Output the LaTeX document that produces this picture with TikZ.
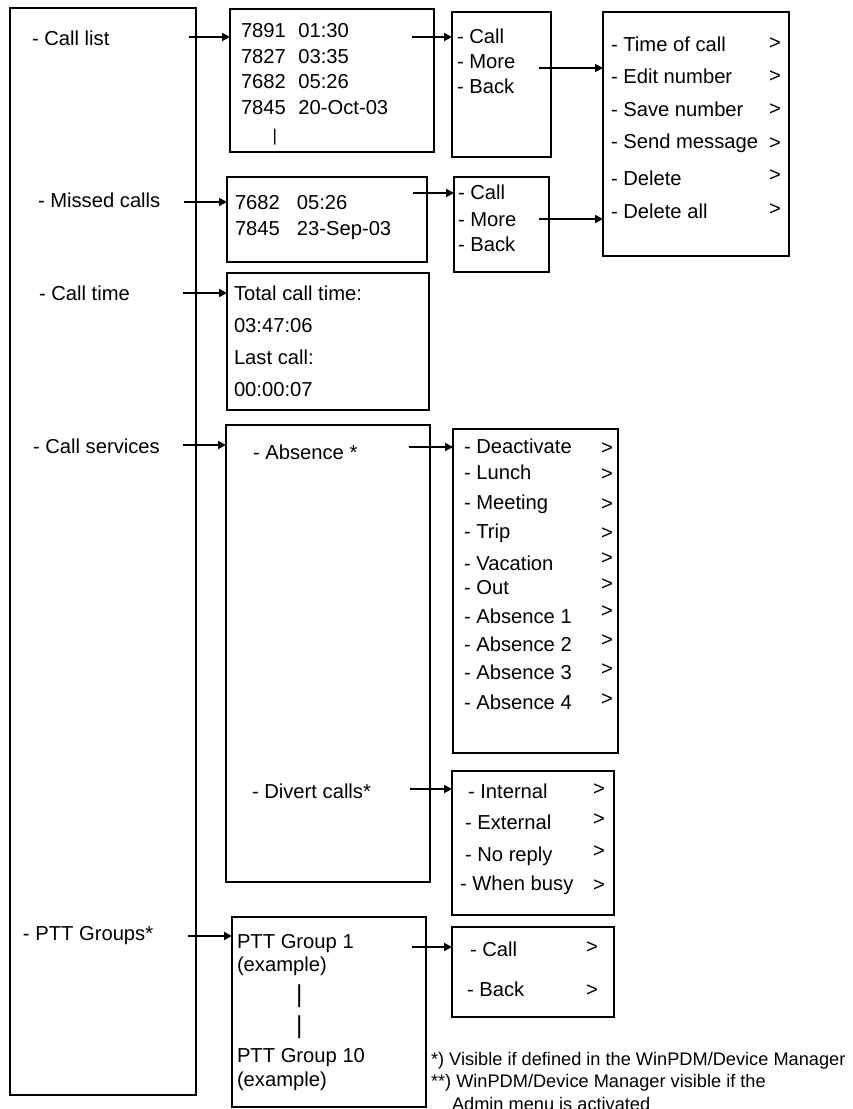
\documentclass[tikz,border=0pt]{standalone}
\usepackage{fontspec}
\setmainfont{Liberation Sans}
\usetikzlibrary{arrows.meta}
\tikzset{
 box/.style={draw, line width=1.8pt, inner sep=0pt, outer sep=0pt, rectangle},
 lbl/.style={anchor=base west, inner sep=0pt, outer sep=0pt, font=\fontsize{20.2}{24}\selectfont},
 note/.style={anchor=base west, inner sep=0pt, outer sep=0pt, font=\fontsize{18.2}{20}\selectfont},
 bar/.style={anchor=base west, inner sep=0pt, outer sep=0pt, font=\fontsize{#1}{#1}\selectfont},
 arr/.style={line width=1.8pt, -{Triangle[length=8pt,width=8pt]}},
}
\newcommand\mybox[5]{\node[box,anchor=north west,minimum width={(#4-#2)*1pt},minimum height={(#5-#3)*1pt}] (#1) at (#2,#3) {};}
\begin{document}
\begin{tikzpicture}[x=1pt,y=-1pt]
\useasboundingbox (0,0) rectangle (852,1109);
\clip (0,0) rectangle (852,1109);
% boxes
\mybox{main}{10}{8}{196}{1095}
\mybox{clist}{230}{9}{434}{152}
\mybox{cbone}{452}{12}{551}{157}
\mybox{opts}{603}{12}{789}{256}
\mybox{missed}{227}{177}{427}{262}
\mybox{cbtwo}{454}{177}{549}{272}
\mybox{ctime}{227}{273}{429}{410}
\mybox{serv}{226}{425}{430}{882}
\mybox{absn}{453}{429}{618}{753}
\mybox{divert}{452}{771}{614}{915}
\mybox{ptt}{232}{917}{426}{1107}
\mybox{pttcall}{452}{927}{614}{1017}
% left labels
\node[lbl] (L1) at (32,45) {- Call list};
\node[lbl] (L2) at (38,207) {- Missed calls};
\node[lbl] (L3) at (39,300) {- Call time};
\node[lbl] (L4) at (33,453) {- Call services};
\node[lbl] (L5) at (23,940) {- PTT Groups*};
% call list
\node[lbl] (C1) at (241,37) {7891\hspace{12.5pt}01:30};
\node[lbl] (C2) at (241,63) {7827\hspace{12.5pt}03:35};
\node[lbl] (C3) at (241,88) {7682\hspace{12.5pt}05:26};
\node[lbl] (C4) at (241,114) {7845\hspace{12.5pt}20-Oct-03};
\node[bar=17] (C5) at (272.5,141) {|};
% call box 1
\node[lbl] (D1) at (457,43) {- Call};
\node[lbl] (D2) at (457,68) {- More};
\node[lbl] (D3) at (457,93) {- Back};
% options
\node[lbl] (O1) at (611,51) {- Time of call};
\node[lbl] (O2) at (611,83) {- Edit number};
\node[lbl] (O3) at (611,116) {- Save number};
\node[lbl] (O4) at (611,148) {- Send message};
\node[lbl] (O5) at (611,185) {- Delete};
\node[lbl] (O6) at (611,218) {- Delete all};
\node[lbl] (G1) at (769,49) {>};
\node[lbl] (G2) at (769,82) {>};
\node[lbl] (G3) at (769,115) {>};
\node[lbl] (G4) at (769,149) {>};
\node[lbl] (G5) at (769,181) {>};
\node[lbl] (G6) at (769,215) {>};
% missed
\node[lbl] (M1) at (235,209) {7682\hspace{17pt}05:26};
\node[lbl] (M2) at (235,235) {7845\hspace{17pt}23-Sep-03};
% call box 2
\node[lbl] (E1) at (458,199) {- Call};
\node[lbl] (E2) at (458,226) {- More};
\node[lbl] (E3) at (458,251) {- Back};
% call time
\node[lbl] (T1) at (234,300) {Total call time:};
\node[lbl] (T2) at (234,332) {03:47:06};
\node[lbl] (T3) at (234,364) {Last call:};
\node[lbl] (T4) at (234,396) {00:00:07};
% services
\node[lbl] (S1) at (253,459) {- Absence *};
\node[lbl] (S2) at (252,798) {- Divert calls*};
% absence
\node[lbl] (A1) at (464,453) {- Deactivate};
\node[lbl] (A2) at (464,479) {- Lunch};
\node[lbl] (A3) at (464,509) {- Meeting};
\node[lbl] (A4) at (464,538) {- Trip};
\node[lbl] (A5) at (464,570) {- Vacation};
\node[lbl] (A6) at (464,594) {- Out};
\node[lbl] (A7) at (464,623) {- Absence 1};
\node[lbl] (A8) at (464,651) {- Absence 2};
\node[lbl] (A9) at (464,679) {- Absence 3};
\node[lbl] (A10) at (464,709) {- Absence 4};
\node[lbl] (H1) at (601,454) {>};
\node[lbl] (H2) at (601,480) {>};
\node[lbl] (H3) at (601,510) {>};
\node[lbl] (H4) at (601,539) {>};
\node[lbl] (H5) at (601,564) {>};
\node[lbl] (H6) at (601,590) {>};
\node[lbl] (H7) at (601,617) {>};
\node[lbl] (H8) at (601,646) {>};
\node[lbl] (H9) at (601,675) {>};
\node[lbl] (H10) at (601,705) {>};
% divert
\node[lbl] (V1) at (468,798) {- Internal};
\node[lbl] (V2) at (465,829) {- External};
\node[lbl] (V3) at (465,861) {- No reply};
\node[lbl] (V4) at (460,890) {- When busy};
\node[lbl] (J1) at (593,795) {>};
\node[lbl] (J2) at (593,825) {>};
\node[lbl] (J3) at (593,857) {>};
\node[lbl] (J4) at (593,891) {>};
% ptt
\node[lbl] (P1) at (237,948) {PTT Group 1};
\node[lbl] (P2) at (237,971) {(example)};
\node[bar=24.5] (P3) at (296,1002) {|};
\node[bar=24.5] (P4) at (296,1033) {|};
\node[lbl] (P5) at (237,1062) {PTT Group 10};
\node[lbl] (P6) at (237,1086) {(example)};
% ptt call
\node[lbl] (K1) at (470,956) {- Call};
\node[lbl] (K2) at (467,996) {- Back};
\node[lbl] (K3) at (586,953) {>};
\node[lbl] (K4) at (586,996) {>};
% notes
\node[note] (N1) at (431,1065) {*) Visible if defined in the WinPDM/Device Manager};
\node[note] (N2) at (431,1087) {**) WinPDM/Device Manager visible if the};
\node[note] (N3) at (452,1110) {Admin menu is activated};
% arrows
\coordinate (a1) at (189,37);
\coordinate (a2) at (184,202);
\coordinate (a3) at (183,293);
\coordinate (a4) at (183,445);
\coordinate (a5) at (188,936);
\coordinate (b1) at (412,37);
\coordinate (b2) at (413,193);
\coordinate (c1) at (539,68);
\coordinate (c2) at (539,219);
\coordinate (d1) at (409,447);
\coordinate (d2) at (410,789);
\coordinate (e1) at (412,947);
\draw[arr] (a1) -- (a1 -| clist.west);
\draw[arr] (a2) -- (a2 -| missed.west);
\draw[arr] (a3) -- (a3 -| ctime.west);
\draw[arr] (a4) -- (a4 -| serv.west);
\draw[arr] (a5) -- (a5 -| ptt.west);
\draw[arr] (b1) -- (b1 -| cbone.west);
\draw[arr] (b2) -- (b2 -| cbtwo.west);
\draw[arr] (c1) -- (c1 -| opts.west);
\draw[arr] (c2) -- (c2 -| opts.west);
\draw[arr] (d1) -- (d1 -| absn.west);
\draw[arr] (d2) -- (d2 -| divert.west);
\draw[arr] (e1) -- (e1 -| pttcall.west);
\end{tikzpicture}
\end{document}
